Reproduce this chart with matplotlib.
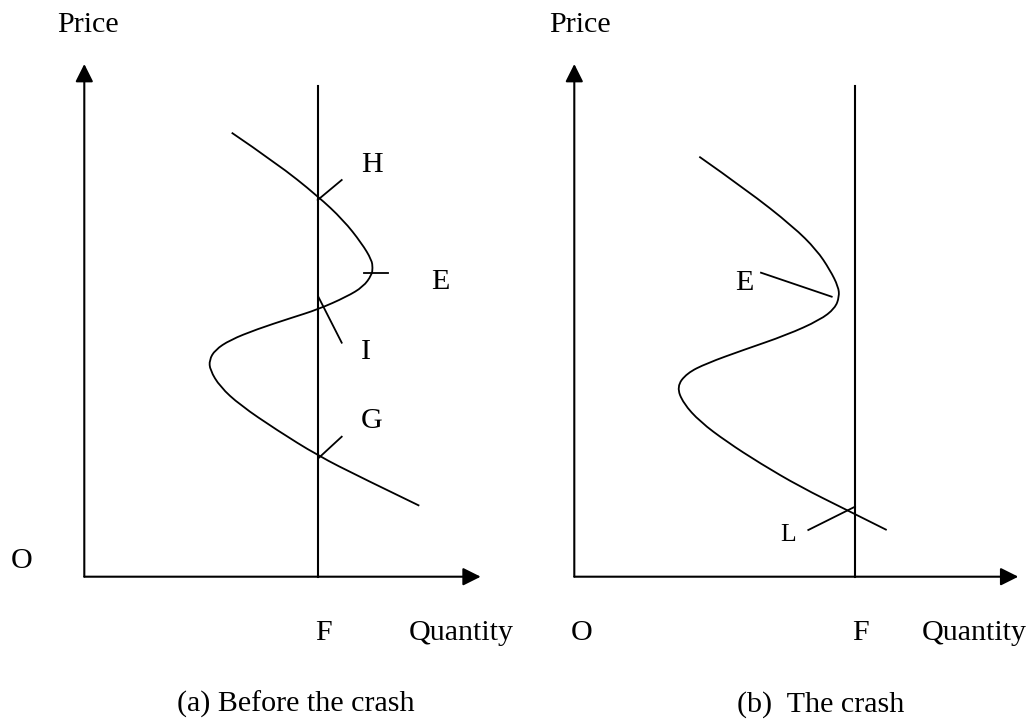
import numpy as np
import matplotlib
matplotlib.use('Agg')
import matplotlib.pyplot as plt
from matplotlib.path import Path
from matplotlib.patches import PathPatch

# everything is in pixel units of the 1034 x 722 picture, y grows downward

# (a) before the crash
a_curve_x = [231.7, 276.7, 317.7, 343.3, 361.7, 371.7, 372.7, 371.7, 363.3, 346.7, 318.3,
             290.0, 256.7, 230.0, 215.0, 209.3, 210.0, 220.0, 240.0, 276.7, 317.7, 360.0, 419.3]
a_curve_y = [132.7, 163.3, 196.0, 220.0, 243.3, 260.0, 268.0, 275.0, 286.7, 296.7, 309.3,
             318.3, 329.3, 340.0, 350.0, 360.0, 370.0, 386.7, 405.0, 430.0, 455.5, 477.0, 505.7]
a_ticks = {            # short pointer lines from the labels to the curve
    'H': [(317.7, 200.0), (341.7, 180.0)],
    'E': [(364.0, 272.7), (388.3, 272.7)],
    'I': [(318.3, 296.7), (341.7, 342.7)],
    'G': [(318.3, 458.3), (341.7, 436.7)],
}
a_origin = (84.3, 576.7)
a_ytip = 64.0
a_xtip = 480.7
a_F = 317.7
a_Ftop = 86.0

# (b) the crash
b_curve_x = [699.3, 746.7, 793.3, 816.7, 830.0, 838.3, 839.3, 835.0, 820.0, 786.7, 743.3,
             706.7, 686.7, 676.7, 683.3, 700.0, 726.7, 760.0, 800.0, 846.7, 886.7]
b_curve_y = [156.7, 190.0, 226.7, 250.0, 270.0, 286.7, 296.7, 308.3, 320.0, 335.0, 350.0,
             363.3, 373.3, 386.7, 403.3, 421.7, 441.7, 463.3, 486.7, 510.0, 530.0]
b_ticks = {
    'E': [(761.0, 272.7), (831.7, 296.7)],
    'L': [(808.3, 530.0), (855.0, 506.7)],
}
b_origin = (574.3, 576.7)
b_ytip = 64.0
b_xtip = 1018.3
b_F = 854.7
b_Ftop = 85.7

# text labels: (text, x centre, baseline, size)
labels = [
    ('Price', 88, 32, 21.6), ('H', 372, 172, 21.6), ('E', 440, 289, 21.6),
    ('I', 366, 359, 21.6), ('G', 372, 428, 21.6), ('O', 22, 568, 21.6),
    ('F', 323, 640, 21.6), ('Quantity', 461, 640, 21.6),
    ('(a) Before the crash', 296, 712, 21.6),
    ('Price', 580, 32, 21.6), ('E', 744, 290, 21.6), ('L', 788, 541, 18.5),
    ('O', 582, 640, 21.6), ('F', 860, 640, 21.6), ('Quantity', 974, 640, 21.6),
    ('(b)  The crash', 821, 712, 21.6),
]

plt.rcParams['font.family'] = ['Liberation Serif', 'DejaVu Serif']

fig = plt.figure(figsize=(10.34, 7.22), dpi=100)
ax = fig.add_axes([0, 0, 1, 1])
ax.set_xlim(0, 1034)
ax.set_ylim(722, 0)
ax.axis('off')

def draw_axes(origin, xtip, ytip):
    arrow = dict(arrowstyle='-|>', mutation_scale=27, lw=1.5, color='k',
                 shrinkA=0, shrinkB=0)
    ax.annotate('', xy=(origin[0], ytip), xytext=origin, arrowprops=arrow)
    ax.annotate('', xy=(xtip, origin[1]), xytext=origin, arrowprops=arrow)

def smooth_curve(xs, ys):
    # read points used as quadratic bezier controls, so the library draws it smooth
    pts = np.column_stack([xs, ys])
    verts = [pts[0]]
    codes = [Path.MOVETO]
    for i in range(1, len(pts) - 1):
        end = pts[i + 1] if i == len(pts) - 2 else (pts[i] + pts[i + 1]) / 2
        verts += [pts[i], end]
        codes += [Path.CURVE3, Path.CURVE3]
    ax.add_patch(PathPatch(Path(verts, codes), fill=False, lw=1.3, edgecolor='k'))

draw_axes(a_origin, a_xtip, a_ytip)
draw_axes(b_origin, b_xtip, b_ytip)

ax.plot([a_F, a_F], [a_Ftop, a_origin[1]], color='k', lw=1.5)
ax.plot([b_F, b_F], [b_Ftop, b_origin[1]], color='k', lw=1.5)

smooth_curve(a_curve_x, a_curve_y)
smooth_curve(b_curve_x, b_curve_y)

for seg in list(a_ticks.values()) + list(b_ticks.values()):
    xs, ys = zip(*seg)
    ax.plot(xs, ys, color='k', lw=1.3)

for txt, x, y, size in labels:
    ax.text(x, y, txt, ha='center', va='baseline', fontsize=size, color='k')

fig.savefig('out.png', dpi=100, facecolor='w')
